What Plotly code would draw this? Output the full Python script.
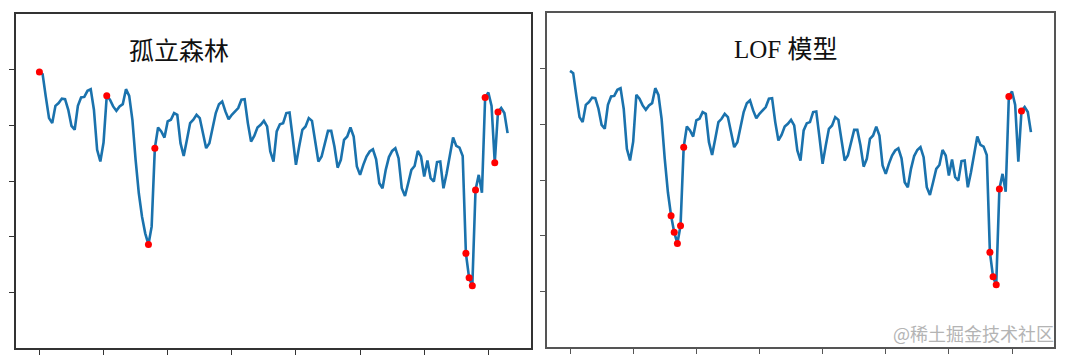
import plotly.graph_objects as go

# Series values (same series in both panels), index 0..146
values = [4.96, 4.92, 4.51, 4.13, 4.04, 4.35, 4.40, 4.48, 4.47, 4.28,
          3.99, 3.92, 4.35, 4.50, 4.51, 4.62, 4.65, 4.28, 3.56, 3.35,
          3.69, 4.53, 4.46, 4.34, 4.26, 4.34, 4.38, 4.65, 4.53, 4.10,
          3.38, 2.78, 2.36, 2.06, 1.86, 2.18, 3.59, 3.96, 3.89, 3.78,
          4.07, 4.10, 4.22, 4.19, 3.68, 3.45, 3.74, 4.04, 4.10, 4.19,
          4.13, 3.86, 3.59, 3.68, 3.98, 4.22, 4.38, 4.43, 4.25, 4.11,
          4.19, 4.25, 4.31, 4.46, 4.47, 4.04, 3.71, 3.81, 3.96, 4.01,
          4.08, 3.98, 3.53, 3.35, 3.89, 4.02, 4.04, 4.22, 4.23, 3.77,
          3.29, 3.62, 3.92, 3.98, 4.13, 4.08, 3.68, 3.35, 3.44, 3.68,
          3.90, 3.90, 3.62, 3.24, 3.38, 3.74, 3.80, 3.96, 3.80, 3.26,
          3.11, 3.29, 3.44, 3.53, 3.57, 3.39, 2.96, 2.87, 3.20, 3.43,
          3.54, 3.59, 3.41, 2.87, 2.73, 2.96, 3.20, 3.27, 3.54, 3.44,
          3.08, 3.37, 3.05, 2.99, 3.34, 3.35, 2.87, 3.14, 3.50, 3.78,
          3.63, 3.60, 3.45, 1.70, 1.26, 1.12, 2.84, 3.11, 2.79, 4.50,
          4.59, 4.35, 3.33, 4.24, 4.31, 4.22, 3.86]
index = list(range(len(values)))

# Anomaly indices flagged by each model
iforest_anomalies = [0, 21, 34, 36, 133, 134, 135, 136, 139, 142, 143]
lof_anomalies = [32, 33, 34, 35, 36, 133, 134, 135, 136, 139, 143]

titles = ["孤立森林", "LOF 模型"]
watermark = "@稀土掘金技术社区"
x_ticks = [0, 20, 40, 60, 80, 100, 120, 140]
y_ticks = [1, 2, 3, 4, 5]

# page body has an 8px margin; figure sized to fill the rest of the window
OFF = 8
W, H = 1070 - OFF, 357 - OFF
line_color = "#1a72ad"

fig = go.Figure()

panels = [
    dict(anoms=iforest_anomalies, xs="x", ys="y"),
    dict(anoms=lof_anomalies, xs="x2", ys="y2"),
]
for p in panels:
    fig.add_trace(go.Scatter(x=index, y=values, mode="lines",
                             line=dict(color=line_color, width=2.6),
                             xaxis=p["xs"], yaxis=p["ys"], showlegend=False,
                             hoverinfo="skip"))
    fig.add_trace(go.Scatter(x=p["anoms"], y=[values[i] for i in p["anoms"]],
                             mode="markers",
                             marker=dict(color="#ff0000", size=7),
                             xaxis=p["xs"], yaxis=p["ys"], showlegend=False,
                             hoverinfo="skip"))

def px_x(v):
    return (v - OFF) / W

def px_y(v):
    return 1 - (v - OFF) / H

axis_common = dict(showticklabels=False, ticks="outside", ticklen=5,
                   tickwidth=1.2, showgrid=False, zeroline=False,
                   showline=True, mirror=True, linewidth=1.5)

fig.update_layout(
    width=W, height=H,
    margin=dict(l=0, r=0, t=0, b=0),
    paper_bgcolor="white", plot_bgcolor="white",
    xaxis=dict(domain=[px_x(16), px_x(531)], range=[-7.3, 153.3],
               tickvals=x_ticks, anchor="y", linecolor="#333",
               tickcolor="#333", **axis_common),
    yaxis=dict(domain=[px_y(348), px_y(14)], range=[0, 6],
               tickvals=y_ticks, anchor="x", linecolor="#333",
               tickcolor="#333", **axis_common),
    xaxis2=dict(domain=[px_x(547), px_x(1054)], range=[-7.3, 153.3],
                tickvals=x_ticks, anchor="y2", linecolor="#555",
                tickcolor="#555", **axis_common),
    yaxis2=dict(domain=[px_y(347), px_y(13)], range=[0, 6],
                tickvals=y_ticks, anchor="x2", linecolor="#555",
                tickcolor="#555", **axis_common),
)

title_font = dict(family="Liberation Serif, Noto Sans CJK SC", size=25, color="#111")
fig.add_annotation(text=titles[0], x=px_x(179), y=px_y(52), xref="paper", yref="paper",
                   showarrow=False, font=title_font, xanchor="center", yanchor="middle")
fig.add_annotation(text=titles[1], x=px_x(785), y=px_y(50), xref="paper", yref="paper",
                   showarrow=False, font=title_font, xanchor="center", yanchor="middle")

fig.add_annotation(text=watermark, x=px_x(1056), y=px_y(333),
                   xref="paper", yref="paper", showarrow=False,
                   font=dict(family="Noto Sans CJK SC", size=18, color="#b4b4b4"),
                   xanchor="right", yanchor="middle")

fig.write_html("out.html")
